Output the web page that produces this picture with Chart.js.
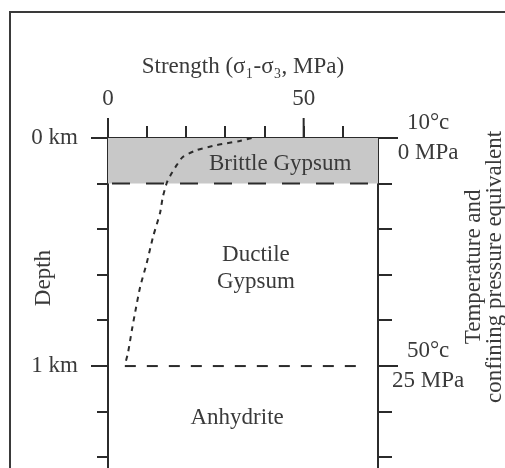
<!DOCTYPE html>
<html>
<head>
<meta charset="utf-8">
<script src="https://cdn.jsdelivr.net/npm/chart.js@4.4.1/dist/chart.umd.min.js"></script>
<style>
  html, body { margin: 0; padding: 0; background: #fff; overflow: hidden; }
</style>
</head>
<body>
<canvas id="chart" width="505" height="468"></canvas>
<script>
// strength envelope (MPa vs km)
const strengthMPa     = [36.7, 33.7, 27.8, 22.7, 19.1, 17.6, 16.3, 15.1, 14.0, 13.3, 11.5, 9.9, 8.2, 6.9, 6.1, 5.1, 4.3];
const strengthDepthKm = [0, 0.013, 0.031, 0.053, 0.083, 0.118, 0.154, 0.193, 0.259, 0.329, 0.434, 0.548, 0.654, 0.768, 0.842, 0.943, 0.996];

// layer boundaries (km)
const brittleTop = 0;
const brittleBase = 0.2;
const anhydriteTop = 1.0;
const anhydriteLine = [4.3, 65.5]; // MPa range of the dashed line

const xMax = 69;
const yMax = 1.447;

// tick labels
const strengthTicks = [[0, '0'], [50, '50']];
const depthTicks = [[0, '0 km'], [1, '1 km']];
const conditionTicks = [[0, ['10°c', '0 MPa']], [1, ['50°c', '25 MPa']]];

const layerNames = ['Brittle Gypsum', ['Ductile', 'Gypsum'], 'Anhydrite'];
const layerLabelX = [44, 37.8, 33];
const layerLabelY = [0.114, 0.57, 1.228];

const ink = '#2b2b2b';
const textInk = '#3a3a3a';
const serif = "'Liberation Serif', 'Times New Roman', serif";
const fontSize = 23;

function lookup(list, v) {
    for (let i = 0; i < list.length; i++) {
        if (Math.abs(list[i][0] - v) < 1e-6) return list[i][1];
    }
    return '';
}

const curve = strengthMPa.map((v, i) => ({x: v, y: strengthDepthKm[i]}));

const extras = {
    id: 'extras',
    afterDraw(chart) {
        const c = chart.ctx;
        const a = chart.chartArea;
        const xs = chart.scales.x;
        const ys = chart.scales.y;
        c.save();
        // outer frame of the figure
        c.strokeStyle = '#3a3a3a';
        c.lineWidth = 2;
        c.strokeRect(10, 12, 600, 600);

        // longer ticks at labelled values
        c.strokeStyle = ink;
        c.lineWidth = 2;
        c.beginPath();
        depthTicks.forEach(t => {
            const py = ys.getPixelForValue(t[0]);
            c.moveTo(a.left - 17, py);
            c.lineTo(a.left, py);
            c.moveTo(a.right, py);
            c.lineTo(a.right + 20, py);
        });
        strengthTicks.forEach(t => {
            const px = xs.getPixelForValue(t[0]);
            c.moveTo(px, a.top);
            c.lineTo(px, a.top - 20);
        });
        c.stroke();

        c.fillStyle = textInk;
        c.font = fontSize + 'px ' + serif;
        c.textAlign = 'center';
        c.textBaseline = 'middle';
        layerNames.forEach((name, i) => {
            const lines = Array.isArray(name) ? name : [name];
            const px = xs.getPixelForValue(layerLabelX[i]);
            const py = ys.getPixelForValue(layerLabelY[i]);
            lines.forEach((ln, j) => {
                c.fillText(ln, px, py + (j - (lines.length - 1) / 2) * 27);
            });
        });

        // Depth (left) title
        c.save();
        c.translate(44, ys.getPixelForValue(0.614));
        c.rotate(-Math.PI / 2);
        c.fillText('Depth', 0, 0);
        c.restore();

        // right hand title, reads bottom to top
        c.save();
        c.translate(474, ys.getPixelForValue(0.565));
        c.rotate(-Math.PI / 2);
        c.fillText('Temperature and', 0, 0);
        c.fillText('confining pressure equivalent', 0, 21);
        c.restore();

        c.restore();
    }
};

function fixVertical(width) {
    return s => {
        s.width = width;
        s.paddingTop = 0;
        s.paddingBottom = 0;
    };
}

new Chart(document.getElementById('chart'), {
    type: 'scatter',
    data: {
        datasets: [
            {
                label: 'Strength',
                data: curve,
                showLine: true,
                borderColor: ink,
                borderWidth: 2,
                borderDash: [5, 5],
                pointRadius: 0,
                tension: 0.2
            },
            {
                label: 'Anhydrite top',
                data: [{x: anhydriteLine[0], y: anhydriteTop}, {x: anhydriteLine[1], y: anhydriteTop}],
                showLine: true,
                borderColor: ink,
                borderWidth: 2,
                borderDash: [11, 11],
                pointRadius: 0
            },
            {
                label: 'Brittle base',
                data: [{x: 0, y: brittleBase}, {x: xMax, y: brittleBase}],
                showLine: true,
                borderColor: ink,
                borderWidth: 2,
                borderDash: [18, 16],
                borderDashOffset: -4,
                pointRadius: 0
            },
            {
                label: 'Brittle Gypsum',
                data: [{x: 0, y: brittleTop}, {x: xMax, y: brittleTop}],
                showLine: true,
                borderWidth: 0,
                borderColor: 'rgba(0,0,0,0)',
                backgroundColor: '#c8c8c8',
                fill: {value: brittleBase},
                pointRadius: 0
            }
        ]
    },
    options: {
        responsive: false,
        animation: false,
        layout: { padding: 0 },
        plugins: {
            legend: { display: false },
            tooltip: { enabled: false }
        },
        scales: {
            x: {
                type: 'linear',
                position: 'top',
                min: 0,
                max: xMax,
                ticks: {
                    stepSize: 10,
                    autoSkip: false,
                    includeBounds: false,
                    maxRotation: 0,
                    padding: 13,
                    color: textInk,
                    font: { family: serif, size: fontSize },
                    callback: v => lookup(strengthTicks, v)
                },
                grid: { drawOnChartArea: false, tickLength: 12, color: ink, lineWidth: 2 },
                border: { color: ink, width: 2 },
                title: {
                    display: true,
                    text: 'Strength (σ₁-σ₃, MPa)',
                    color: textInk,
                    font: { family: serif, size: fontSize },
                    padding: { top: 53, bottom: 0 }
                },
                afterFit: s => { s.height = 138; s.paddingLeft = 0; s.paddingRight = 0; }
            },
            y: {
                type: 'linear',
                position: 'left',
                reverse: true,
                min: 0,
                max: yMax,
                ticks: {
                    stepSize: 0.2,
                    autoSkip: false,
                    includeBounds: false,
                    padding: 19,
                    color: textInk,
                    font: { family: serif, size: fontSize },
                    callback: v => lookup(depthTicks, v)
                },
                grid: { drawOnChartArea: false, tickLength: 11, color: ink, lineWidth: 2 },
                border: { color: ink, width: 2 },
                afterFit: fixVertical(108)
            },
            y2: {
                type: 'linear',
                position: 'right',
                reverse: true,
                min: 0,
                max: yMax,
                ticks: {
                    stepSize: 0.2,
                    autoSkip: false,
                    includeBounds: false,
                    crossAlign: 'center',
                    padding: 0,
                    color: textInk,
                    font: { family: serif, size: fontSize, lineHeight: 1.3 },
                    callback: v => lookup(conditionTicks, v)
                },
                grid: { drawOnChartArea: false, tickLength: 14, color: ink, lineWidth: 2 },
                border: { color: ink, width: 2 },
                afterFit: fixVertical(127)
            }
        }
    },
    plugins: [extras]
});
</script>
</body>
</html>
